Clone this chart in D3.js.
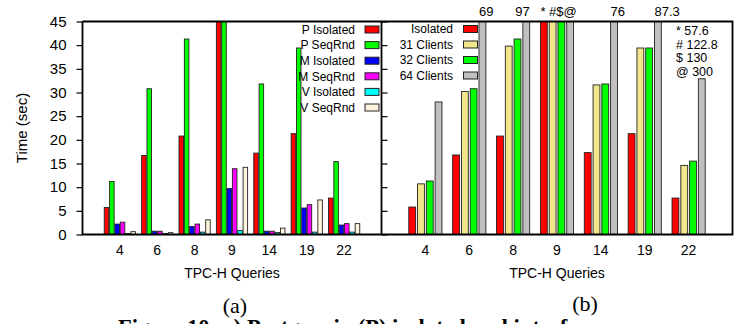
<!DOCTYPE html>
<html><head><meta charset="utf-8">
<script src="https://cdn.jsdelivr.net/npm/d3@7"></script>
<style>
html,body{margin:0;padding:0;background:#fff;overflow:hidden}
svg{display:block}
text{font-family:"Liberation Sans",Arial,Helvetica,sans-serif;fill:#000}
</style></head><body>
<svg id="c" width="744" height="324"></svg>
<script>
// ---- data ----
const queries = ["4","6","8","9","14","19","22"];
const yTicks = [0,5,10,15,20,25,30,35,40,45];

// panel (a)
const seriesA = ["P Isolated","P SeqRnd","M Isolated","M SeqRnd","V Isolated","V SeqRnd"];
const colorsA = ["#ff0000","#00ff00","#0000ff","#ff00ff","#00ffff","#fff5dc"];
const pIsolated = [5.7,16.7,20.8,57.6,17.2,21.3,7.7];
const pSeqRnd   = [11.2,30.8,41.3,130,31.8,39.4,15.4];
const mIsolated = [2.2,0.7,1.7,9.7,0.7,5.6,2.0];
const mSeqRnd   = [2.6,0.7,2.2,13.9,0.7,6.3,2.3];
const vIsolated = [0.2,0.2,0.5,0.85,0.4,0.5,0.5];
const vSeqRnd   = [0.6,0.4,3.1,14.2,1.35,7.3,2.3];

// panel (b)
const seriesB = ["Isolated","31 Clients","32 Clients","64 Clients"];
const colorsB = ["#ff0000","#f0e68c","#00ff00","#c0c0c0"];
const isolatedB = [5.8,16.8,20.8,57.6,17.3,21.3,7.7];
const clients31 = [10.7,30.2,39.8,122.8,31.6,39.4,14.6];
const clients32 = [11.3,30.8,41.3,130,31.8,39.4,15.5];
const clients64 = [28,69,97,300,76,87.3,32.9];

// off-scale annotations of panel (b)
const overCats  = ["6","8","9","14","19"];
const overTexts = ["69","97","* #$@","76","87.3"];
const overSeries = [3,3,0,3,3];
const overAnchor = ["start","end","start","start","start"];
const noteLines = ["* 57.6","# 122.8","$ 130","@ 300"];

const caption = "Figure 10: a) Postgres in (P) isolated and interference";

// ---- layout ----
const svg = d3.select("#c");
const yTop = 21.5, yBot = 234.5;
const y = d3.scaleLinear().domain([0,45]).range([yBot, yTop]);

function panel(x0, x1, seriesVals, colors, barFrac, id){
  const x = d3.scaleLinear().domain([-1,7]).range([x0,x1]);
  const step = x(1)-x(0);
  const slot = step/(seriesVals.length+1);
  const bw = slot*barFrac;
  svg.append("clipPath").attr("id",id).append("rect")
    .attr("x",x0).attr("y",yTop).attr("width",x1-x0).attr("height",yBot-yTop);
  const g = svg.append("g").attr("clip-path",`url(#${id})`);
  seriesVals.forEach((vals,si)=>{
    g.selectAll(null).data(vals).enter().append("rect")
      .attr("x",(d,i)=>x(i)-seriesVals.length*slot/2+si*slot+(slot-bw)/2)
      .attr("y",d=>y(Math.min(d,46)))
      .attr("width",bw)
      .attr("height",d=>y(0)-y(Math.min(d,46)))
      .attr("fill",colors[si]).attr("stroke","#222").attr("stroke-width",0.9);
  });
  svg.append("g").selectAll("text").data(queries).enter().append("text")
    .attr("x",(d,i)=>x(i)).attr("y",255).attr("text-anchor","middle")
    .style("font-size","14px").text(d=>d);
  svg.append("text").attr("x",(x0+x1)/2).attr("y",278).attr("text-anchor","middle")
    .style("font-size","14px").text("TPC-H Queries");
  return {x,slot,bw};
}

const pa = panel(82.5,381.5,[pIsolated,pSeqRnd,mIsolated,mSeqRnd,vIsolated,vSeqRnd],colorsA,0.85,"ca");
const pb = panel(381.5,732.5,[isolatedB,clients31,clients32,clients64],colorsB,0.78,"cb");

// frames
const frame = svg.append("g").attr("fill","none").attr("stroke","#000").attr("stroke-width",1.8);
frame.append("path").attr("d",`M82.5,${yTop}V${yBot}H732.5V${yTop}H82.5`);
frame.append("path").attr("d",`M381.5,${yTop}V${yBot}`);

// left y axis (outward ticks) with labels
const yAxis = d3.axisLeft(y).tickValues(yTicks).tickSize(6).tickPadding(10);
const ga = svg.append("g").attr("transform","translate(82.5,0)").call(yAxis);
ga.select(".domain").remove();
ga.selectAll("line").attr("stroke","#000").attr("stroke-width",1.2);
ga.selectAll("text").style("font-size","15px").style("font-family","Liberation Sans,Arial,sans-serif");
const gb = svg.append("g").attr("transform","translate(381.5,0)")
  .call(d3.axisRight(y).tickValues(yTicks).tickSize(6).tickFormat(""));
gb.select(".domain").remove();
gb.selectAll("line").attr("stroke","#000").attr("stroke-width",1.2);

svg.append("text").attr("transform","translate(27,128) rotate(-90)")
  .attr("text-anchor","middle").style("font-size","15px").text("Time (sec)");

// legends
function legend(labelEnd, swX, y0, dy, labels, colors){
  const g = svg.append("g");
  labels.forEach((l,i)=>{
    g.append("text").attr("x",labelEnd).attr("y",y0+i*dy).attr("dy","0.35em")
      .attr("text-anchor","end").style("font-size","12px").text(l);
    g.append("rect").attr("x",swX).attr("y",y0+i*dy-3.5).attr("width",14).attr("height",7)
      .attr("fill",colors[i]).attr("stroke","#222").attr("stroke-width",1);
  });
}
legend(355,365,29.5,15.6,seriesA,colorsA);
legend(453,463.5,29,15.5,seriesB,colorsB);

// annotations for clipped bars
overCats.forEach((c,k)=>{
  const i = queries.indexOf(c);
  const si = overSeries[k];
  const left = pb.x(i)-2*pb.slot+si*pb.slot+(pb.slot-pb.bw)/2;
  svg.append("text").attr("x",overAnchor[k]==="end"?left+pb.bw:left).attr("y",16)
    .attr("text-anchor",overAnchor[k]).style("font-size","13px").text(overTexts[k]);
});
noteLines.forEach((t,i)=>{
  svg.append("text").attr("x",676).attr("y",35+i*13.5).style("font-size","12.5px").text(t);
});

// sub captions
svg.append("text").attr("x",235).attr("y",313).attr("text-anchor","middle")
  .style("font-family","Liberation Serif,Times New Roman,serif").style("font-size","22px").text("(a)");
svg.append("text").attr("x",585).attr("y",311).attr("text-anchor","middle")
  .style("font-family","Liberation Serif,Times New Roman,serif").style("font-size","22px").text("(b)");
svg.append("text").attr("x",118).attr("y",335)
  .style("font-family","Liberation Serif,Times New Roman,serif").style("font-weight","bold")
  .style("font-size","22.5px").text(caption);
</script>
</body></html>
